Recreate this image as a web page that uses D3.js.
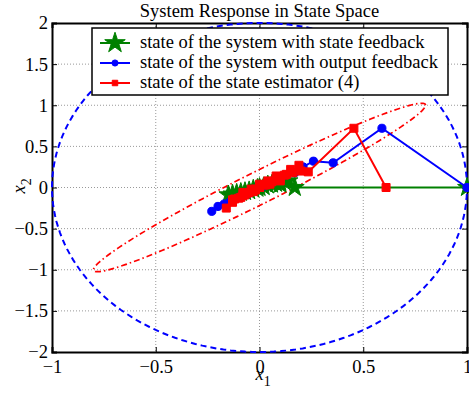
<!DOCTYPE html>
<html lang="en">
<head>
<meta charset="UTF-8">
<title>System Response in State Space</title>
<style>
  body { margin: 0; background: #fff; }
  svg text { font-family: "Liberation Serif", "Times New Roman", serif; fill: #000; }
  .grid line { stroke: #999; stroke-dasharray: 1,2; }
</style>
</head>
<body>
<script src="https://cdn.jsdelivr.net/npm/d3@7"></script>
<script>
// ---- data ----
var xTicks = [-1, -0.5, 0, 0.5, 1]
var yTicks = [-2, -1.5, -1, -0.5, 0, 0.5, 1, 1.5, 2]

var stateFb = [[1, 0], [0.17, 0], [0.1, 0.04], [-0.15, -0.09], [0.14, 0.08], [-0.13, -0.08],
  [0.12, 0.07], [-0.11, -0.07], [0.1, 0.06], [-0.09, -0.06], [0.08, 0.05], [-0.07, -0.05],
  [0.06, 0.04], [-0.05, -0.04], [0.04, 0.03], [-0.03, -0.02], [0.02, 0.01], [-0.01, -0.01],
  [0, 0]]

var outputFb = [[1, 0], [0.59, 0.72], [0.355, 0.3], [0.26, 0.32], [0.21, 0.25], [0.17, 0.18],
  [0.12, 0.15], [0.05, 0.06], [-0.03, -0.04], [-0.1, -0.12], [-0.17, -0.2], [-0.2, -0.23],
  [-0.23, -0.29], [-0.14, -0.17], [-0.05, -0.07], [0.03, 0.04], [0.09, 0.1], [0.06, 0.07],
  [0, 0], [-0.06, -0.08], [-0.09, -0.11], [-0.04, -0.05], [0.02, 0.02], [0.04, 0.05],
  [0.01, 0.01], [-0.02, -0.02], [0, 0]]

var estimator = [[0.61, 0], [0.455, 0.72], [0.235, 0.19], [0.19, 0.27], [0.2, 0.2], [0.15, 0.22],
  [0.12, 0.15], [0.08, 0.14], [0.04, 0.08], [0, 0.04], [-0.04, -0.02], [-0.08, -0.06],
  [-0.12, -0.14], [-0.16, -0.25], [-0.13, -0.18], [-0.09, -0.12], [-0.05, -0.06], [0, 0],
  [0.05, 0.06], [0.1, 0.11], [0.13, 0.16], [0.16, 0.18], [0.08, 0.1], [0.03, 0.03],
  [-0.02, -0.03], [-0.07, -0.09], [-0.1, -0.13], [-0.13, -0.15], [-0.06, -0.07], [-0.02, -0.02],
  [0.02, 0.03], [0.06, 0.07], [0.1, 0.08], [0.03, 0.04], [-0.03, -0.05], [-0.08, -0.1],
  [0, 0.01], [0.05, 0.04], [0, 0]]

// ellipses: semi-axes given as two conjugate vectors
var outerEllipse = [[1, 0], [0, 2]]
var estEllipse = [[0.8, 1.0], [0, 0.22]]

var legendLabels = ["state of the system with state feedback",
  "state of the system with output feedback",
  "state of the state estimator (4)"]

var W = 469, H = 394
var margin = {top: 23, right: 2, bottom: 42, left: 52}
var width = W - margin.left - margin.right,
    height = H - margin.top - margin.bottom

var x = d3.scaleLinear().domain([-1, 1]).range([0, width])
var y = d3.scaleLinear().domain([-2, 2]).range([height, 0])

var svg = d3.select("body").append("svg")
    .attr("width", W)
    .attr("height", H)

svg.append("text")
    .attr("x", margin.left + width / 2)
    .attr("y", 17)
    .attr("text-anchor", "middle")
    .style("font-size", "18.5px")
    .text("System Response in State Space")

var g = svg.append("g")
    .attr("transform", "translate(" + margin.left + "," + margin.top + ")")

g.append("defs").append("clipPath").attr("id", "clip")
  .append("rect").attr("x", -3).attr("y", -3).attr("width", width + 6).attr("height", height + 6)

// grid
var grid = g.append("g").attr("class", "grid")
grid.selectAll(".gx").data(xTicks.slice(1, -1)).enter().append("line")
    .attr("x1", d => x(d)).attr("x2", d => x(d)).attr("y1", 0).attr("y2", height)
grid.selectAll(".gy").data(yTicks.slice(1, -1)).enter().append("line")
    .attr("y1", d => y(d)).attr("y2", d => y(d)).attr("x1", 0).attr("x2", width)

// axes with inward ticks
var fmt = d => d < 0 ? "\u2212" + Math.abs(d) : String(d)
var axB = g.append("g").attr("transform", "translate(0," + height + ")")
    .call(d3.axisBottom(x).tickValues(xTicks).tickSize(-5).tickPadding(8).tickFormat(fmt))
var axL = g.append("g")
    .call(d3.axisLeft(y).tickValues(yTicks).tickSize(-5).tickPadding(4).tickFormat(fmt))
g.append("g").call(d3.axisTop(x).tickValues(xTicks).tickSize(-5).tickFormat(""))
g.append("g").attr("transform", "translate(" + width + ",0)")
    .call(d3.axisRight(y).tickValues(yTicks).tickSize(-5).tickFormat(""))
g.selectAll(".domain").attr("stroke", "#000").attr("stroke-width", 2)
g.selectAll(".tick line").attr("stroke", "#000")
g.selectAll(".tick text").style("font-size", "18.5px").attr("fill", "#000")
axB.selectAll(".tick text").attr("dy", "0.71em")

var plot = g.append("g").attr("clip-path", "url(#clip)")

function ellipsePts(e) {
  return d3.range(0, 361, 2).map(function (a) {
    var t = a * Math.PI / 180
    return [Math.cos(t) * e[0][0] + Math.sin(t) * e[1][0], Math.cos(t) * e[0][1] + Math.sin(t) * e[1][1]]
  })
}
var line = d3.line().x(d => x(d[0])).y(d => y(d[1]))

plot.append("path").datum(ellipsePts(outerEllipse))
    .attr("d", line).attr("fill", "none").attr("stroke", "#0000ff")
    .attr("stroke-width", 2).attr("stroke-dasharray", "6,4")
plot.append("path").datum(ellipsePts(estEllipse))
    .attr("d", line).attr("fill", "none").attr("stroke", "#ff0000")
    .attr("stroke-width", 1.7).attr("stroke-dasharray", "6,3,1.5,3")

var series = [
  {data: stateFb, color: "#008000", type: d3.symbolStar, size: 110},
  {data: outputFb, color: "#0000ff", type: d3.symbolCircle, size: 52},
  {data: estimator, color: "#ff0000", type: d3.symbolSquare, size: 64}
]

series.forEach(function (s) {
  plot.append("path").datum(s.data).attr("d", line)
      .attr("fill", "none").attr("stroke", s.color).attr("stroke-width", 2)
  plot.selectAll(null).data(s.data).enter().append("path")
      .attr("transform", d => "translate(" + x(d[0]) + "," + y(d[1]) + ")")
      .attr("d", d3.symbol().type(s.type).size(s.size)).attr("fill", s.color).attr("stroke", s.color)
})

// legend
var lg = svg.append("g").attr("transform", "translate(92,28)")
lg.append("rect").attr("width", 356).attr("height", 67)
    .attr("fill", "#fff").attr("stroke", "#000").attr("stroke-width", 1.5)
series.forEach(function (s, i) {
  var yy = 15 + i * 20
  lg.append("line").attr("x1", 8).attr("x2", 38).attr("y1", yy).attr("y2", yy)
      .attr("stroke", s.color).attr("stroke-width", 2)
  lg.append("path").attr("transform", "translate(23," + yy + ")")
      .attr("d", d3.symbol().type(s.type).size(s.type === d3.symbolStar ? 130 : 30))
      .attr("fill", s.color).attr("stroke", s.color)
  lg.append("text").attr("x", 48).attr("y", yy + 5)
      .style("font-size", "18.5px").text(legendLabels[i])
})

// axis labels
var xl = svg.append("text").attr("x", margin.left + x(0) - 4).attr("y", 380)
    .style("font-size", "18.5px")
xl.append("tspan").style("font-style", "italic").text("x")
xl.append("tspan").attr("dy", 6).style("font-size", "14px").text("1")

var yl = svg.append("text").attr("transform", "translate(25," + (margin.top + y(0) + 6) + ") rotate(-90)")
    .style("font-size", "18.5px")
yl.append("tspan").style("font-style", "italic").text("x")
yl.append("tspan").attr("dy", 6).style("font-size", "14px").text("2")
</script>
</body>
</html>
